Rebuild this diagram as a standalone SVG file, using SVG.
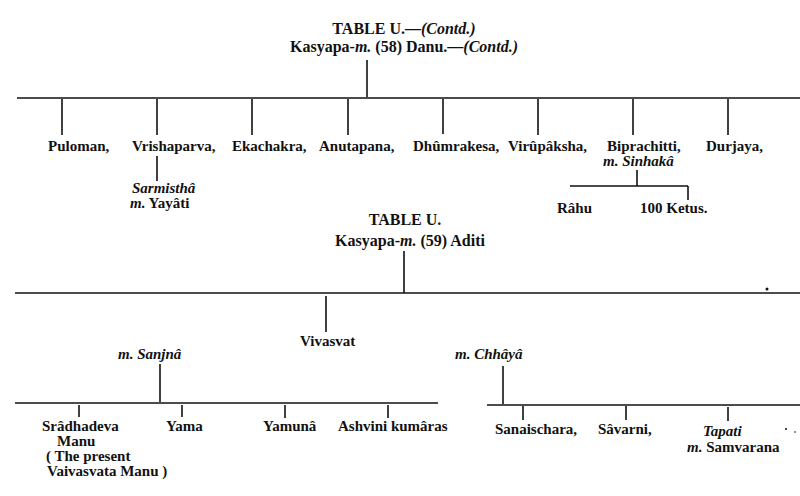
<svg xmlns="http://www.w3.org/2000/svg" width="800" height="496" viewBox="0 0 800 496">
<style>
text{font-family:"Liberation Serif","DejaVu Serif",serif;font-size:15px;font-weight:bold;fill:#111}
.t{font-size:16px}
.i{font-style:italic}
.c line{stroke:#111;stroke-width:1.6}
</style>
<rect width="800" height="496" fill="#fff"/>
<g id="title1">
<text class="t" x="404" y="34" text-anchor="middle">TABLE U.—<tspan class="i">(Contd.)</tspan></text>
<text class="t" x="404" y="52" text-anchor="middle">Kasyapa-<tspan class="i">m.</tspan> (58) Danu.—<tspan class="i">(Contd.)</tspan></text>
</g>
<g id="puloman"><text x="48" y="151">Puloman,</text></g>
<g id="vrishaparva"><text x="132" y="151">Vrishaparva,</text></g>
<g id="sarmistha"><text x="132" y="193" class="i">Sarmisthâ</text><text x="130" y="208"><tspan class="i">m.</tspan> Yayâti</text></g>
<g id="ekachakra"><text x="232" y="151">Ekachakra,</text></g>
<g id="anutapana"><text x="319" y="151">Anutapana,</text></g>
<g id="dhumrakesa"><text x="413" y="151">Dhûmrakesa,</text></g>
<g id="virupaksha"><text x="508" y="151">Virûpâksha,</text></g>
<g id="biprachitti"><text x="607" y="151">Biprachitti,</text><text x="603" y="166" class="i">m. Sinhakâ</text></g>
<g id="durjaya"><text x="706" y="151">Durjaya,</text></g>
<g id="rahu"><text x="557" y="213">Râhu</text></g>
<g id="ketus"><text x="640" y="213">100 Ketus.</text></g>
<g id="title2">
<text class="t" x="405" y="225" text-anchor="middle">TABLE U.</text>
<text class="t" x="410" y="246" text-anchor="middle">Kasyapa-<tspan class="i">m.</tspan> (59) Aditi</text>
</g>
<g id="vivasvat"><text x="300" y="346">Vivasvat</text></g>
<g id="sanjna"><text x="118" y="359" class="i">m. Sanjnâ</text></g>
<g id="chhaya"><text x="455" y="359" class="i">m. Chhâyâ</text></g>
<g id="sradhadeva"><text x="42" y="431">Srâdhadeva</text><text x="57" y="446">Manu</text><text x="46" y="461">( The present</text><text x="47" y="476">Vaivasvata Manu )</text></g>
<g id="yama"><text x="166" y="431">Yama</text></g>
<g id="yamuna"><text x="263" y="431">Yamunâ</text></g>
<g id="ashvini"><text x="338" y="431">Ashvini kumâras</text></g>
<g id="sanaischara"><text x="495" y="434">Sanaischara,</text></g>
<g id="savarni"><text x="598" y="434">Sâvarni,</text></g>
<g id="tapati"><text x="703" y="436" class="i">Tapati</text><text x="687" y="452"><tspan class="i">m.</tspan> Samvarana</text></g>
<g id="connectors" class="c">
<line x1="367" y1="60" x2="367" y2="97"/>
<line x1="17" y1="98" x2="800" y2="98"/>
<line x1="62" y1="99" x2="62" y2="135"/>
<line x1="157" y1="99" x2="157" y2="135"/>
<line x1="252" y1="99" x2="252" y2="135"/>
<line x1="348" y1="99" x2="348" y2="135"/>
<line x1="443" y1="99" x2="443" y2="134"/>
<line x1="538" y1="99" x2="538" y2="135"/>
<line x1="633" y1="99" x2="633" y2="135"/>
<line x1="728" y1="99" x2="728" y2="135"/>
<line x1="157" y1="156" x2="157" y2="181"/>
<line x1="637" y1="170" x2="637" y2="186"/>
<line x1="570" y1="186" x2="688" y2="186"/>
<line x1="688" y1="186" x2="688" y2="200"/>
<line x1="404" y1="251" x2="404" y2="293"/>
<line x1="15" y1="293" x2="800" y2="293"/>
<line x1="326" y1="296" x2="326" y2="332"/>
<line x1="160" y1="364" x2="160" y2="402"/>
<line x1="15" y1="403" x2="438" y2="403"/>
<line x1="503" y1="366" x2="503" y2="404"/>
<line x1="487" y1="405" x2="800" y2="405"/>
<line x1="79" y1="405" x2="79" y2="417"/>
<line x1="182" y1="405" x2="182" y2="417"/>
<line x1="285" y1="405" x2="285" y2="418"/>
<line x1="388" y1="405" x2="388" y2="418"/>
<line x1="523" y1="406" x2="523" y2="420"/>
<line x1="626" y1="406" x2="626" y2="420"/>
<line x1="728" y1="407" x2="728" y2="421"/>
</g>
<g id="specks" fill="#111">
<circle cx="767" cy="289" r="1.5"/>
<circle cx="786" cy="429" r="1"/>
<circle cx="795" cy="432" r="0.8"/>
</g>
</svg>
